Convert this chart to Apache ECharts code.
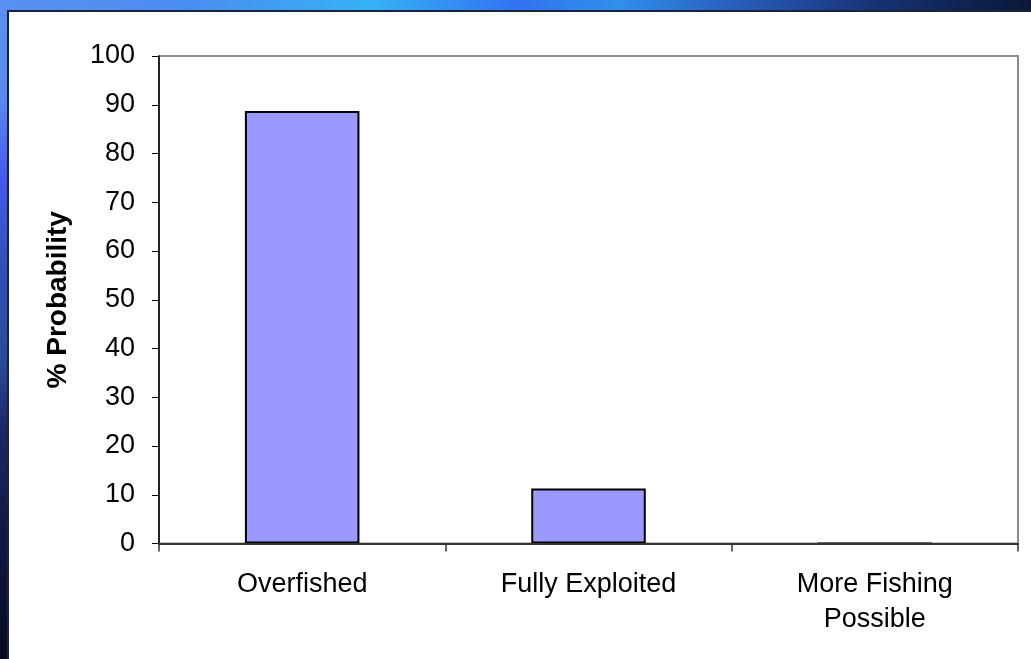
<!DOCTYPE html>
<html>
<head>
<meta charset="utf-8">
<script src="https://cdn.jsdelivr.net/npm/echarts@6/dist/echarts.min.js"></script>
<style>
  html, body { margin: 0; padding: 0; background: #ffffff; }
  #chart { width: 1031px; height: 659px; }
</style>
</head>
<body>
<div id="chart"></div>
<script>
// Stock status categories and probability (%) for each
const categories = ['Overfished', 'Fully Exploited', 'More Fishing\nPossible'];
const probability = [88.7, 11.3, 0];
const yTicks = { min: 0, max: 100, interval: 10 };
const yAxisTitle = '% Probability';

const chart = echarts.init(document.getElementById('chart'), null, { renderer: 'canvas' });
const W = 1031, H = 659;
const FONT = 'Liberation Sans, Arial, sans-serif';

chart.setOption({
  animation: false,
  backgroundColor: '#ffffff',
  graphic: [
    // slide frame: blue strip along the top
    {
      type: 'rect', z: -10, silent: true,
      shape: { x: 0, y: 0, width: W, height: 11 },
      style: {
        fill: {
          type: 'linear', x: 0, y: 0, x2: 1, y2: 0,
          colorStops: [
            { offset: 0.0, color: '#5a90f2' },
            { offset: 0.18, color: '#4a8cf0' },
            { offset: 0.36, color: '#36b2f6' },
            { offset: 0.5, color: '#3272f2' },
            { offset: 0.6, color: '#2f90ea' },
            { offset: 0.7, color: '#2a62c4' },
            { offset: 0.85, color: '#173274' },
            { offset: 1.0, color: '#0a1838' }
          ]
        }
      }
    },
    // slide frame: blue strip down the left side
    {
      type: 'rect', z: -10, silent: true,
      shape: { x: 0, y: 0, width: 8, height: H },
      style: {
        fill: {
          type: 'linear', x: 0, y: 0, x2: 0, y2: 1,
          colorStops: [
            { offset: 0.0, color: '#5a90f2' },
            { offset: 0.15, color: '#5a88f0' },
            { offset: 0.27, color: '#4658f2' },
            { offset: 0.4, color: '#3350b8' },
            { offset: 0.55, color: '#2a4a9a' },
            { offset: 0.65, color: '#1c2866' },
            { offset: 0.8, color: '#101a44' },
            { offset: 1.0, color: '#080a20' }
          ]
        }
      }
    },
    // dark edge of the white panel
    {
      type: 'polyline', z: -9, silent: true,
      shape: { points: [[8, H], [8, 11], [W, 11]] },
      style: { stroke: '#1a2438', lineWidth: 2, fill: null }
    }
  ],
  grid: {
    left: 159, top: 56, right: 13, bottom: 115.5,
    show: true,
    borderColor: '#8c8c8c',
    borderWidth: 2,
    backgroundColor: 'transparent'
  },
  xAxis: {
    type: 'category',
    data: categories,
    z: 5,
    axisLine: { show: true, lineStyle: { color: '#333333', width: 2 } },
    axisTick: { show: true, inside: false, length: 8, alignWithLabel: false, lineStyle: { color: '#333333', width: 1.5 } },
    axisLabel: {
      color: '#000000', fontFamily: FONT,
      fontSize: 27, lineHeight: 35, margin: 24, interval: 0
    },
    splitLine: { show: false }
  },
  yAxis: {
    type: 'value',
    min: yTicks.min, max: yTicks.max, interval: yTicks.interval,
    name: yAxisTitle,
    nameLocation: 'middle',
    nameGap: 87,
    nameTextStyle: {
      color: '#000000', fontFamily: FONT,
      fontSize: 28, fontWeight: 'bold'
    },
    axisLine: { show: true, lineStyle: { color: '#000000', width: 1.5 } },
    axisTick: { show: true, inside: false, length: 7, lineStyle: { color: '#000000', width: 1 } },
    axisLabel: {
      color: '#000000', fontFamily: FONT,
      fontSize: 27, margin: 24
    },
    splitLine: { show: false }
  },
  series: [{
    type: 'bar',
    data: probability,
    barCategoryGap: '60%',
    itemStyle: { color: '#9999ff', borderColor: '#000000', borderWidth: 2 }
  }]
});
</script>
</body>
</html>
